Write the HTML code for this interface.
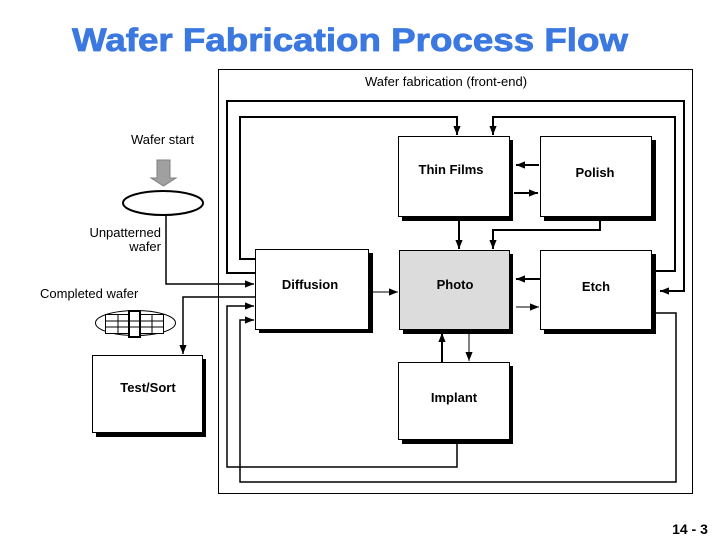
<!DOCTYPE html>
<html><head><meta charset="utf-8"><style>
html,body{margin:0;padding:0;background:#fff;}
svg{display:block;}
text{font-family:"Liberation Sans",Arial,sans-serif;}
</style></head><body>
<svg width="720" height="540" viewBox="0 0 720 540" xmlns="http://www.w3.org/2000/svg">
<defs>
<marker id="b" viewBox="0 0 10 10" refX="10" refY="5" markerWidth="9" markerHeight="9" orient="auto" markerUnits="userSpaceOnUse"><path d="M0,1 L10,5 L0,9 z" fill="#000"/></marker>
</defs>
<text x="72" y="51" font-size="32" font-weight="bold" fill="#3b78e0" stroke="#3b78e0" stroke-width="0.8" textLength="556" lengthAdjust="spacingAndGlyphs">Wafer Fabrication Process Flow</text>
<rect x="218.5" y="69.5" width="474" height="424" fill="none" stroke="#000" stroke-width="1"/>
<text x="365" y="86" font-size="13">Wafer fabrication (front-end)</text>
<text x="131" y="144" font-size="13">Wafer start</text>
<text x="161" y="237" font-size="13" text-anchor="end">Unpatterned</text>
<text x="161" y="251" font-size="13" text-anchor="end">wafer</text>
<text x="40" y="298" font-size="13">Completed wafer</text>
<path d="M157,160 H170 V178 H176 L163.5,186 L151,178 H157 Z" fill="#a0a0a0" stroke="#808080" stroke-width="1"/>
<ellipse cx="163" cy="203" rx="40" ry="12" fill="#fff" stroke="#000" stroke-width="2"/>
<ellipse cx="135.5" cy="323" rx="40" ry="12.5" fill="#fff" stroke="#000" stroke-width="1"/>
<rect x="105.5" y="314.5" width="58" height="19" fill="#fff" stroke="#000"/>
<rect x="129" y="311" width="11" height="26" fill="#fff" stroke="#000" stroke-width="2"/>
<line x1="105" y1="321" x2="164" y2="321" stroke="#000"/>
<line x1="105" y1="327" x2="164" y2="327" stroke="#000"/>
<line x1="118" y1="314" x2="118" y2="334" stroke="#000"/>
<line x1="152" y1="314" x2="152" y2="334" stroke="#000"/>
<g fill="#000">
<rect x="259" y="253" width="114" height="80"/>
<rect x="96" y="359" width="110" height="78"/>
<rect x="402" y="140" width="111" height="81"/>
<rect x="544" y="140" width="112" height="81"/>
<rect x="403" y="254" width="110" height="80"/>
<rect x="544" y="254" width="112" height="80"/>
<rect x="402" y="366" width="111" height="78"/>
</g>
<g stroke="#000" stroke-width="1">
<rect x="255.5" y="249.5" width="113" height="80" fill="#fff"/>
<rect x="92.5" y="355.5" width="110" height="77" fill="#fff"/>
<rect x="398.5" y="136.5" width="111" height="80" fill="#fff"/>
<rect x="540.5" y="136.5" width="111" height="80" fill="#fff"/>
<rect x="399.5" y="250.5" width="110" height="79" fill="#dcdcdc"/>
<rect x="540.5" y="250.5" width="111" height="79" fill="#fff"/>
<rect x="398.5" y="362.5" width="111" height="77" fill="#fff"/>
</g>
<g font-size="13" font-weight="bold" text-anchor="middle">
<text x="310" y="289">Diffusion</text>
<text x="148" y="392">Test/Sort</text>
<text x="451" y="174">Thin Films</text>
<text x="595" y="177">Polish</text>
<text x="455" y="289">Photo</text>
<text x="596" y="291">Etch</text>
<text x="454" y="402">Implant</text>
<text x="690" y="534" font-size="14">14 - 3</text>
</g>
<g fill="none" stroke="#000" stroke-width="2">
<polyline points="255,273 227,273 227,101 684,101 684,291 660,291" marker-end="url(#b)"/>
<polyline points="255,259 240,259 240,117 457,117 457,135" marker-end="url(#b)"/>
<polyline points="652,271 675,271 675,117 493,117 493,135" marker-end="url(#b)"/>
<polyline points="652,313 676,313 676,482 240,482 240,320 254,320" marker-end="url(#b)" stroke-width="1.5"/>
<polyline points="457,440 457,467 227,467 227,306 254,306" marker-end="url(#b)" stroke-width="1.5"/>
<polyline points="166,215 166,284 254,284" marker-end="url(#b)" stroke-width="1.5"/>
<polyline points="255,297 183,297 183,354" marker-end="url(#b)" stroke-width="1.5"/>
<line x1="369" y1="292" x2="398" y2="292" marker-end="url(#b)" stroke-width="1"/>
<line x1="539" y1="165" x2="516" y2="165" marker-end="url(#b)"/>
<line x1="514" y1="193" x2="538" y2="193" marker-end="url(#b)"/>
<line x1="459" y1="221" x2="459" y2="249" marker-end="url(#b)"/>
<polyline points="600,221 600,230 493,230 493,249" marker-end="url(#b)"/>
<line x1="540" y1="279" x2="516" y2="279" marker-end="url(#b)"/>
<line x1="516" y1="307" x2="539" y2="307" marker-end="url(#b)" stroke-width="1"/>
<line x1="442" y1="362" x2="442" y2="333" marker-end="url(#b)"/>
<line x1="469" y1="334" x2="469" y2="361" marker-end="url(#b)" stroke-width="1"/>
</g>
</svg>
</body></html>
